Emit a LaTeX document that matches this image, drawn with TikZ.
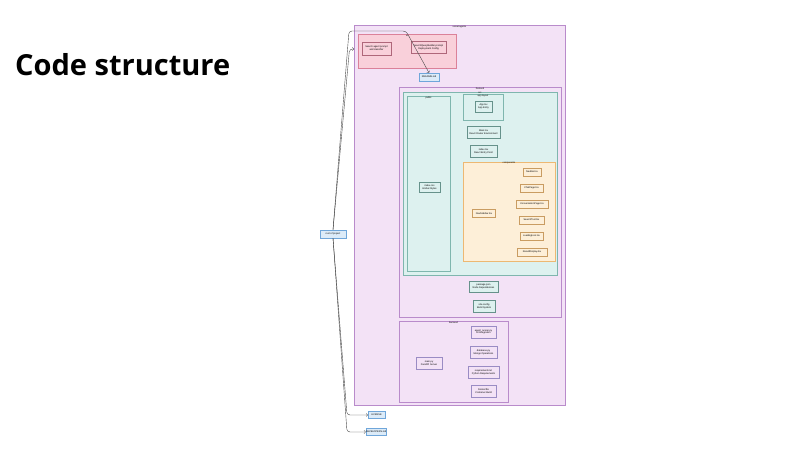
\documentclass[tikz,border=0pt]{standalone}
\usepackage{fontspec}
\usepackage{tikz}
\setmainfont{Liberation Sans}
\newfontfamily\titlefont{Open Sans}
\definecolor{rootfill}{HTML}{F3E2F6}
\definecolor{rootline}{HTML}{B98BCB}
\definecolor{pinkfill}{HTML}{F9D0DA}
\definecolor{pinkline}{HTML}{DB8199}
\definecolor{tealfill}{HTML}{DDF1EF}
\definecolor{tealline}{HTML}{7FB6AE}
\definecolor{orangefill}{HTML}{FDEFD8}
\definecolor{orangeline}{HTML}{EDB872}
\definecolor{bluefill}{HTML}{DCEBF8}
\definecolor{blueline}{HTML}{6FA6DA}
\definecolor{purpline}{HTML}{9A8CC4}
\definecolor{linegray}{HTML}{4A4A4A}
\tikzstyle{frame}=[draw,line width=0.5pt,inner sep=0pt]

\begin{document}
\begin{tikzpicture}[x=1pt,y=-1pt]

\tikzstyle{box}=[draw,line width=0.4pt,inner sep=0pt,align=center,font=\fontsize{2.4}{2.9}\selectfont]
\tikzstyle{tag}=[anchor=north,inner sep=0.5pt,font=\fontsize{2.3}{2.8}\selectfont]
\tikzstyle{arrow}=[->,line width=0.4pt,draw=linegray,rounded corners=3pt]

\useasboundingbox (0,0) rectangle (806,453);
\fill[white] (0,0) rectangle (806,453);

\node (T) [anchor=base west,inner sep=0pt,font=\titlefont\bfseries\fontsize{29}{32}\selectfont] at (15,75) {Code structure};

% containers
\node (R) [frame,fill=rootfill,draw=rootline,minimum width=211pt,minimum height=380pt] at (459.5,215) {};
\node (Rt) [tag] at (R.north) {social-agents};
\node (P) [frame,fill=pinkfill,draw=pinkline,minimum width=98pt,minimum height=34pt] at (407,51) {};
\node (Pt) [tag] at (P.north) {ai};
\node (F) [frame,fill=rootfill,draw=rootline,minimum width=162pt,minimum height=230pt] at (480,202) {};
\node (Ft) [tag] at (F.north) {frontend};
\node (S) [frame,fill=tealfill,draw=tealline,minimum width=154pt,minimum height=183pt] at (480,183.5) {};
\node (St) [tag] at (S.north) {src};
\node (A) [frame,fill=tealfill,draw=tealline,minimum width=43pt,minimum height=175pt] at (428.5,183.5) {};
\node (At) [tag] at (A.north) {public};
\node (C) [frame,fill=tealfill,draw=tealline,minimum width=40pt,minimum height=26pt] at (483,107) {};
\node (Ct) [tag] at (C.north) {app layout};
\node (O) [frame,fill=orangefill,draw=orangeline,minimum width=92pt,minimum height=99pt] at (509,211.5) {};
\node (Ot) [tag] at (O.north) {components};
\node (B) [frame,fill=rootfill,draw=rootline,minimum width=109pt,minimum height=81pt] at (453.5,361.5) {};
\node (Bt) [tag] at (B.north) {backend};

% files
\node (P1) [box,fill=pinkfill,draw=pinkline!80!black,minimum width=29pt,minimum height=13pt] at (376.5,48.5) {Search agent prompt\\and classifier};
\node (P2) [box,fill=pinkfill,draw=pinkline!80!black,minimum width=35pt,minimum height=12pt] at (428.5,47) {searchQueryBuilder.prompt\\Deployment Config};
\node (RM) [box,fill=bluefill,draw=blueline,minimum width=20pt,minimum height=8pt] at (429,77) {README.md};

\node (A1) [box,fill=tealfill,draw=tealline!80!black,minimum width=21pt,minimum height=10pt] at (429.5,187) {index.css\\Global Styles};
\node (C1) [box,fill=tealfill,draw=tealline!80!black,minimum width=17pt,minimum height=11pt] at (483.5,106.5) {App.tsx\\App Entry};
\node (M) [box,fill=tealfill,draw=tealline!80!black,minimum width=33pt,minimum height=12pt] at (483.5,132) {Main.tsx\\React Router Environment};
\node (I) [box,fill=tealfill,draw=tealline!80!black,minimum width=27pt,minimum height=12pt] at (483.5,151) {index.tsx\\React Entry Point};

\node (O0) [box,fill=orangefill,draw=orangeline!85!black,minimum width=23pt,minimum height=8pt] at (484,213.5) {NavSidebar.tsx};
\node (O1) [box,fill=orangefill,draw=orangeline!85!black,minimum width=18pt,minimum height=8pt] at (532,172) {NavBar.tsx};
\node (O2) [box,fill=orangefill,draw=orangeline!85!black,minimum width=23pt,minimum height=8pt] at (531.5,188) {ChatPage.tsx};
\node (O3) [box,fill=orangefill,draw=orangeline!85!black,minimum width=32pt,minimum height=8pt] at (532,204) {ConversationPage.tsx};
\node (O4) [box,fill=orangefill,draw=orangeline!85!black,minimum width=25pt,minimum height=8pt] at (531.5,220) {SearchTool.tsx};
\node (O5) [box,fill=orangefill,draw=orangeline!85!black,minimum width=23pt,minimum height=8pt] at (531.5,236) {LoadingIcon.tsx};
\node (O6) [box,fill=orangefill,draw=orangeline!85!black,minimum width=30pt,minimum height=8pt] at (532,252) {ResultDisplay.tsx};

\node (K) [box,fill=tealfill,draw=tealline!80!black,minimum width=29pt,minimum height=11pt] at (483.5,286.5) {package.json\\Node Dependencies};
\node (V) [box,fill=tealfill,draw=tealline!80!black,minimum width=22pt,minimum height=12pt] at (484,306) {vite.config\\Build System};

\node (B0) [box,fill=rootfill,draw=purpline,minimum width=26pt,minimum height=12pt] at (429,363) {main.py\\FastAPI Server};
\node (Ba) [box,fill=rootfill,draw=purpline,minimum width=25pt,minimum height=12pt] at (483.5,332) {agent\_runner.py\\AI Integration};
\node (Bb) [box,fill=rootfill,draw=purpline,minimum width=27pt,minimum height=12pt] at (483.5,352) {database.py\\Mongo Operations};
\node (Bc) [box,fill=rootfill,draw=purpline,minimum width=31pt,minimum height=12pt] at (483.5,372) {requirements.txt\\Python Requirements};
\node (Bd) [box,fill=rootfill,draw=purpline,minimum width=25pt,minimum height=12pt] at (483.5,391) {Dockerfile\\Container Build};

\node (L) [box,fill=bluefill,draw=blueline,minimum width=26pt,minimum height=8pt] at (333,234) {root of project};
\node (E1) [box,fill=bluefill,draw=blueline,minimum width=17pt,minimum height=7pt] at (376.5,415) {LICENSE};
\node (E2) [box,fill=bluefill,draw=blueline,minimum width=20pt,minimum height=7pt] at (376,432) {DEVELOPERS.md};

% connectors
\coordinate (Rin) at (354,49);
\draw[arrow] (L.north) -- (349,31) -- (406,31) -- (RM.north);
\draw[arrow] (L.north) -- (349.5,49) -- (Rin);
\draw[arrow] (L.south) -- (347,415) -- (E1.west);
\draw[arrow] (L.south) -- (347,432) -- (E2.west);
\end{tikzpicture}
\end{document}
